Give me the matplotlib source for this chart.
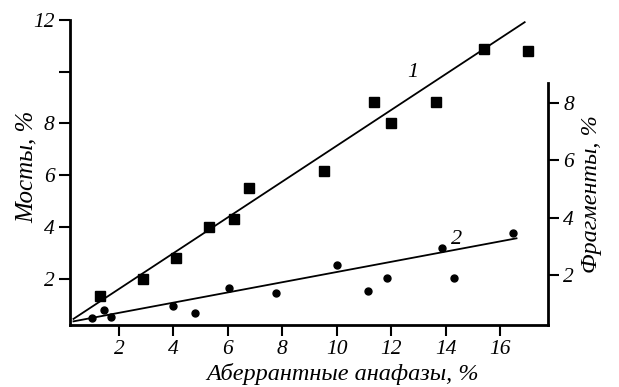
import numpy as np
import matplotlib
matplotlib.use("Agg")
import matplotlib.pyplot as plt

plt.rcParams['font.family'] = ['Liberation Serif', 'DejaVu Serif']
plt.rcParams['font.style'] = 'italic'

# кривая 1: мосты (левая ось)
x_bridges = [1.30, 2.87, 4.11, 5.30, 6.22, 6.78, 9.54, 11.35, 12.0, 13.64, 15.39, 17.02]
y_bridges = [1.33, 2.0, 2.81, 4.0, 4.29, 5.5, 6.16, 8.82, 8.0, 8.82, 10.9, 10.79]

# кривая 2: фрагменты (правая ось)
x_frag = [1.0, 1.44, 1.70, 4.0, 4.81, 6.04, 7.78, 10.0, 11.15, 11.85, 13.85, 14.31, 16.47]
y_frag = [0.48, 0.79, 0.52, 0.90, 0.66, 1.55, 1.38, 2.34, 1.45, 1.9, 2.93, 1.9, 3.48]

# прямые регрессии (концы)
fit_x1 = [0.33, 16.9]
fit_y1 = [0.44, 11.92]
fit_x2 = [0.33, 16.6]
fit_y2 = [0.38, 3.28]

x_ticks = [2, 4, 6, 8, 10, 12, 14, 16]
left_ticks = [2, 4, 6, 8, 10, 12]
left_labels = ['2', '4', '6', '8', '', '12']
right_ticks = [2, 4, 6, 8]

fig = plt.figure(figsize=(6.19, 3.87), dpi=100)
ax = fig.add_axes([0.113, 0.160, 0.772, 0.788])
ax2 = ax.twinx()

ax.plot(fit_x1, fit_y1, color='black', lw=1.3)
ax.plot(x_bridges, y_bridges, 's', color='black', ms=6.5)
ax2.plot(fit_x2, fit_y2, color='black', lw=1.3)
ax2.plot(x_frag, y_frag, 'o', color='black', ms=5)

ax.set_xlim(0.2, 17.75)
ax.set_ylim(0.2, 12.0)
ax2.set_ylim(0.25, 10.9)

ax.set_xticks(x_ticks)
ax.set_yticks(left_ticks)
ax.set_yticklabels(left_labels)
ax2.set_yticks(right_ticks)

for a in (ax, ax2):
    a.tick_params(direction='out', length=8, width=1.5, pad=3, labelsize=15.5)
    a.spines['top'].set_visible(False)
ax.spines['right'].set_visible(False)
ax2.spines['left'].set_visible(False)
ax2.spines['bottom'].set_visible(False)
ax2.spines['right'].set_bounds(0.25, 8.7)
for s in ('left', 'bottom'):
    ax.spines[s].set_linewidth(2)
ax2.spines['right'].set_linewidth(2)

ax.set_xlabel('Аберрантные анафазы, %', fontsize=17.5)
ax.xaxis.set_label_coords(0.571, -0.125)
ax.set_ylabel('Мосты, %', fontsize=18)
ax.yaxis.set_label_coords(-0.067, 0.52)
ax2.set_ylabel('Фрагменты, %', fontsize=17.5, rotation=90)
ax2.yaxis.set_label_coords(1.07, 0.43)

ax.text(12.6, 9.8, '1', fontsize=16)
ax.text(14.2, 3.35, '2', fontsize=16)

fig.savefig('out.png', dpi=100)
